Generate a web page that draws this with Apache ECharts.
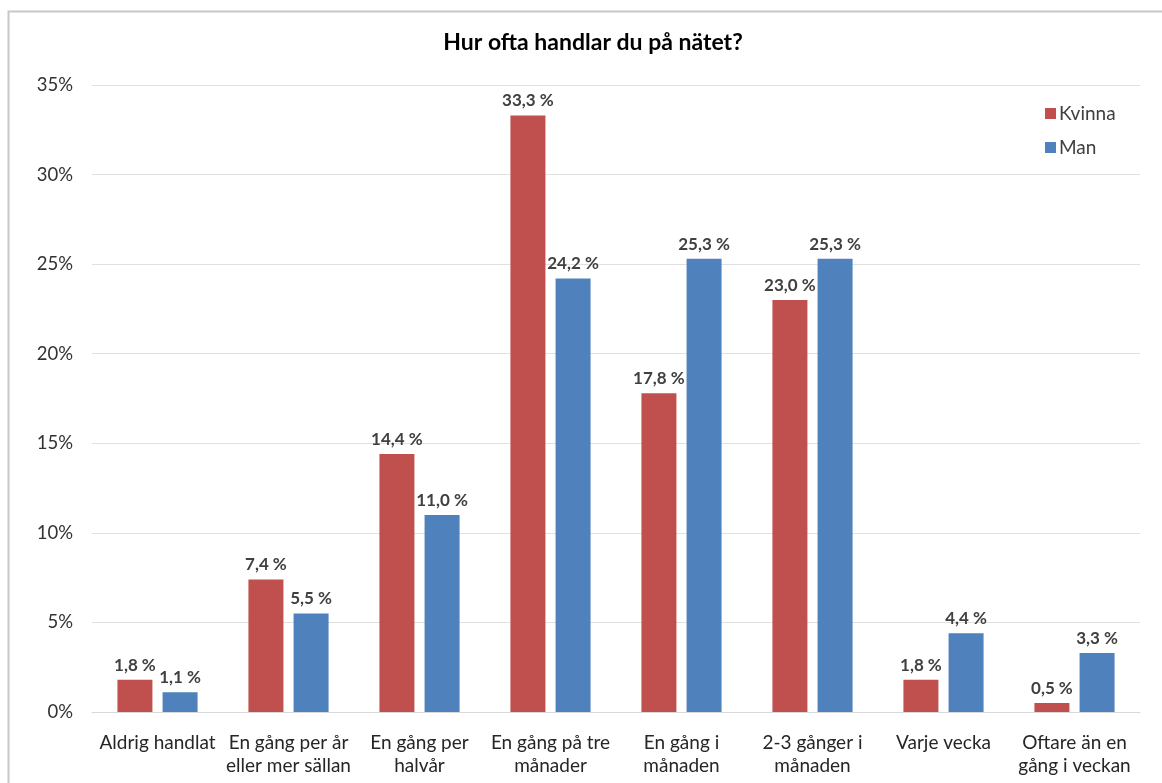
<!DOCTYPE html>
<html>
<head>
<meta charset="utf-8">
<script src="https://cdn.jsdelivr.net/npm/echarts@6/dist/echarts.min.js"></script>
<style>
  html, body { margin: 0; padding: 0; background: #fff; }
  #chart { width: 1162px; height: 783px; }
</style>
</head>
<body>
<div id="chart"></div>
<script>
// Survey: how often do you shop online, split by gender (percent)
const categories = [
  'Aldrig handlat',
  'En gång per år\neller mer sällan',
  'En gång per\nhalvår',
  'En gång på tre\nmånader',
  'En gång i\nmånaden',
  '2-3 gånger i\nmånaden',
  'Varje vecka',
  'Oftare än en\ngång i veckan'
];
const kvinna = [1.8, 7.4, 14.4, 33.3, 17.8, 23.0, 1.8, 0.5];
const man = [1.1, 5.5, 11.0, 24.2, 25.3, 25.3, 4.4, 3.3];
const yTicks = [0, 5, 10, 15, 20, 25, 30, 35];

const FONT = 'Lato, "Open Sans", sans-serif';
const fmtPct = v => v.toFixed(1).replace('.', ',') + ' %';

const labelStyle = {
  show: true,
  position: 'top',
  distance: 6,
  color: '#404040',
  fontWeight: 'bold',
  fontSize: 17,
  fontFamily: FONT,
  formatter: p => fmtPct(p.value)
};

const chart = echarts.init(document.getElementById('chart'), null, { renderer: 'canvas' });
chart.setOption({
  animation: false,
  backgroundColor: '#fff',
  graphic: [{
    type: 'rect',
    shape: { x: 8.5, y: 11.5, width: 1200, height: 800 },
    style: { fill: 'none', stroke: '#c8c8c8', lineWidth: 2 },
    silent: true
  }],
  title: {
    text: 'Hur ofta handlar du på nätet?',
    left: 588,
    top: 26,
    textAlign: 'center',
    textStyle: { fontFamily: FONT, fontWeight: 'bold', fontSize: 23, color: '#000' }
  },
  legend: {
    orient: 'vertical',
    left: 1040,
    top: 99,
    itemWidth: 11,
    itemHeight: 11,
    itemGap: 15,
    icon: 'rect',
    textStyle: { fontFamily: FONT, fontSize: 19, color: '#404040', padding: [0, 0, 0, -2] },
    data: ['Kvinna', 'Man']
  },
  grid: { left: 92, right: 22, top: 85, bottom: 71, containLabel: false },
  xAxis: {
    type: 'category',
    data: categories,
    axisLine: { lineStyle: { color: '#d9d9d9', width: 1 } },
    axisTick: { show: false },
    axisLabel: {
      interval: 0,
      color: '#262626',
      fontFamily: FONT,
      fontSize: 19,
      lineHeight: 23,
      margin: 19
    }
  },
  yAxis: {
    type: 'value',
    min: yTicks[0],
    max: yTicks[yTicks.length - 1],
    interval: 5,
    axisLine: { show: false },
    axisTick: { show: false },
    splitLine: { lineStyle: { color: '#e0e0e0', width: 1 } },
    axisLabel: {
      color: '#333',
      fontFamily: FONT,
      fontSize: 18.5,
      margin: 19,
      formatter: v => v + '%'
    }
  },
  series: [
    {
      name: 'Kvinna',
      type: 'bar',
      data: kvinna,
      barWidth: 35,
      barGap: '29%',
      itemStyle: { color: '#C0504D' },
      label: labelStyle
    },
    {
      name: 'Man',
      type: 'bar',
      data: man,
      barWidth: 35,
      itemStyle: { color: '#4F81BD' },
      label: labelStyle
    }
  ]
});
</script>
</body>
</html>
